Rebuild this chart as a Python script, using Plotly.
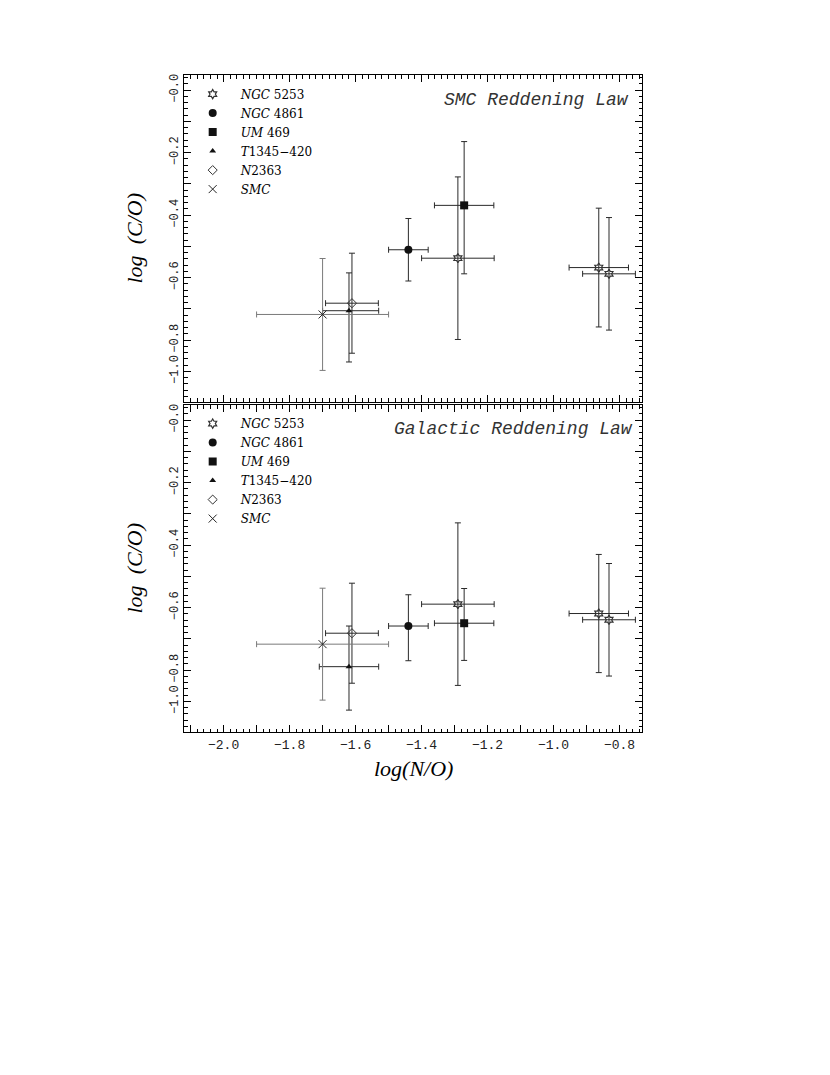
import plotly.graph_objects as go
from plotly.subplots import make_subplots

# ---------------- data ----------------
legend_names = ["<i>NGC</i> 5253", "<i>NGC</i> 4861", "<i>UM</i> 469",
                "<i>T</i>1345\u2212420", "<i>N</i>2363", "<i>SMC</i>"]

# log(N/O) values and errors (same in both panels)
ngc5253_x = [-1.29, -0.863, -0.832]
ngc5253_xerr = [0.11, 0.09, 0.08]
ngc4861_x = [-1.44]
ngc4861_xerr = [0.06]
um469_x = [-1.271]
um469_xerr = [0.09]
t1345_x = [-1.62]
t1345_xerr_minus_smc = [0.08]
t1345_xerr_plus_smc = [0.09]
t1345_xerr_minus_gal = [0.09]
t1345_xerr_plus_gal = [0.09]
n2363_x = [-1.611]
n2363_xerr = [0.08]
smc_x = [-1.70]
smc_xerr = [0.20]

# log(C/O), SMC reddening law
ngc5253_y_smc = [-0.538, -0.568, -0.588]
ngc5253_yerr_smc = [0.26, 0.19, 0.18]
ngc4861_y_smc = [-0.511]
ngc4861_yerr_smc = [0.10]
um469_y_smc = [-0.369]
um469_yplus_smc = [0.204]
um469_yminus_smc = [0.219]
t1345_y_smc = [-0.706]
t1345_yplus_smc = [0.121]
t1345_yminus_smc = [0.164]
n2363_y_smc = [-0.682]
n2363_yerr_smc = [0.16]
smc_y_smc = [-0.718]
smc_yerr_smc = [0.179]

# log(C/O), Galactic reddening law
ngc5253_y_gal = [-0.589, -0.619, -0.639]
ngc5253_yerr_gal = [0.26, 0.189, 0.18]
ngc4861_y_gal = [-0.659]
ngc4861_yplus_gal = [0.10]
ngc4861_yminus_gal = [0.111]
um469_y_gal = [-0.650]
um469_yplus_gal = [0.111]
um469_yminus_gal = [0.119]
t1345_y_gal = [-0.789]
t1345_yplus_gal = [0.130]
t1345_yminus_gal = [0.139]
n2363_y_gal = [-0.682]
n2363_yerr_gal = [0.16]
smc_y_gal = [-0.717]
smc_yerr_gal = [0.179]

# tick labels
x_tickvals = [-2.1, -2.0, -1.9, -1.8, -1.7, -1.6, -1.5, -1.4, -1.3, -1.2, -1.1, -1.0, -0.9, -0.8]
x_ticktext = ["", "\u22122.0", "", "\u22121.8", "", "\u22121.6", "", "\u22121.4", "",
              "\u22121.2", "", "\u22121.0", "", "\u22120.8"]
y_tickvals = [0.0, -0.1, -0.2, -0.3, -0.4, -0.5, -0.6, -0.7, -0.8, -0.9]
y_ticktext = ["\u22120.0", "", "\u22120.2", "", "\u22120.4", "", "\u22120.6", "",
              "\u22120.8", "\u22121.0"]

panel_titles = ["<i>SMC Reddening Law</i>", "<i>Galactic Reddening Law</i>"]

# ---------------- figure ----------------
fig = make_subplots(rows=2, cols=1, shared_xaxes=False, vertical_spacing=0.0046)

INK = "#111111"
ERR = "#2a2a2a"
ERR_GRAY = "#7a7a7a"


def err(arr, minus=None, color=ERR):
    d = dict(type="data", array=arr, visible=True, color=color, thickness=1, width=3)
    if minus is not None:
        d["symmetric"] = False
        d["arrayminus"] = minus
    return d


def add_panel(row, legend_id, ys):
    (y5253, e5253, y4861, e4861p, e4861m, yum, eump, eumm,
     yt, etp, etm, etxm, etxp, yn, en, ys_, es) = ys
    specs = [
        (legend_names[0], ngc5253_x, y5253, err(ngc5253_xerr), err(e5253),
         dict(symbol="hexagram-open", size=7, color="#333333", line=dict(width=1.2, color="#333333"))),
        (legend_names[1], ngc4861_x, y4861, err(ngc4861_xerr), err(e4861p, e4861m),
         dict(symbol="circle", size=8, color=INK, line=dict(width=0))),
        (legend_names[2], um469_x, yum, err(um469_xerr), err(eump, eumm),
         dict(symbol="square", size=8, color=INK, line=dict(width=0))),
        (legend_names[3], t1345_x, yt, err(etxp, etxm), err(etp, etm),
         dict(symbol="triangle-up", size=6, color=INK, line=dict(width=0))),
        (legend_names[4], n2363_x, yn, err(n2363_xerr), err(en),
         dict(symbol="diamond-open", size=7, color="#333333", line=dict(width=1))),
        (legend_names[5], smc_x, ys_, err(smc_xerr, color=ERR_GRAY), err(es, color=ERR_GRAY),
         dict(symbol="x-thin-open", size=8, color="#222222", line=dict(width=1, color="#222222"))),
    ]
    for name, x, y, ex, ey, mk in specs:
        fig.add_trace(go.Scatter(x=x, y=y, mode="markers", name=name, marker=mk,
                                 error_x=ex, error_y=ey, legend=legend_id,
                                 showlegend=True), row=row, col=1)


add_panel(1, "legend", (ngc5253_y_smc, ngc5253_yerr_smc, ngc4861_y_smc, ngc4861_yerr_smc,
                        ngc4861_yerr_smc, um469_y_smc, um469_yplus_smc, um469_yminus_smc,
                        t1345_y_smc, t1345_yplus_smc, t1345_yminus_smc,
                        t1345_xerr_minus_smc, t1345_xerr_plus_smc,
                        n2363_y_smc, n2363_yerr_smc, smc_y_smc, smc_yerr_smc))
add_panel(2, "legend2", (ngc5253_y_gal, ngc5253_yerr_gal, ngc4861_y_gal, ngc4861_yplus_gal,
                         ngc4861_yminus_gal, um469_y_gal, um469_yplus_gal, um469_yminus_gal,
                         t1345_y_gal, t1345_yplus_gal, t1345_yminus_gal,
                         t1345_xerr_minus_gal, t1345_xerr_plus_gal,
                         n2363_y_gal, n2363_yerr_gal, smc_y_gal, smc_yerr_gal))

minor_ticks = dict(ticks="inside", ticklen=3.5, tickwidth=1, tickcolor="black",
                   dtick=0.02, tick0=0, showgrid=False)
axis_common = dict(showline=True, linecolor="black", linewidth=1, mirror="allticks",
                   ticks="inside", ticklen=7, tickwidth=1, tickcolor="black",
                   showgrid=False, zeroline=False, minor=minor_ticks)

for r in (1, 2):
    fig.update_xaxes(range=[-2.12, -0.732], tickmode="array", tickvals=x_tickvals,
                     ticktext=x_ticktext, showticklabels=(r == 2),
                     tickfont=dict(family="Liberation Mono", size=13, color="#222222"),
                     **axis_common, row=r, col=1)
    fig.update_yaxes(range=[-0.998, 0.048], tickmode="array", tickvals=y_tickvals,
                     ticktext=y_ticktext, tickangle=-90,
                     tickfont=dict(family="Liberation Mono", size=12, color="#222222"),
                     **axis_common, row=r, col=1)

legend_common = dict(xref="paper", yref="paper", xanchor="left", yanchor="top",
                     bgcolor="rgba(0,0,0,0)", borderwidth=0, tracegroupgap=0,
                     itemwidth=46,
                     font=dict(family="DejaVu Serif", size=12, color="black"))

title_font = dict(family="Liberation Mono", size=18, color="#333333")
axis_title_font = dict(family="Liberation Serif", size=22, color="black")

annotations = [
    dict(text=panel_titles[0], xref="x domain", yref="y domain", x=0.975, y=0.924,
         xanchor="right", yanchor="middle", showarrow=False, font=title_font),
    dict(text=panel_titles[1], xref="x2 domain", yref="y2 domain", x=0.985, y=0.928,
         xanchor="right", yanchor="middle", showarrow=False, font=title_font),
    dict(text="<i>log</i>&nbsp;&nbsp;<i>(C/O)</i>", xref="paper", yref="y domain",
         x=-0.107, y=0.5, textangle=-90, xanchor="center", yanchor="middle",
         showarrow=False, font=axis_title_font),
    dict(text="<i>log</i>&nbsp;&nbsp;<i>(C/O)</i>", xref="paper", yref="y2 domain",
         x=-0.107, y=0.5, textangle=-90, xanchor="center", yanchor="middle",
         showarrow=False, font=axis_title_font),
    dict(text="<i>log(N/O)</i>", xref="x2 domain", yref="paper",
         x=0.5, y=(732 - 768) / 657, xanchor="center", yanchor="middle",
         showarrow=False, font=axis_title_font),
]

fig.update_layout(
    width=822, height=1067,
    margin=dict(l=176, r=188, t=67, b=343, pad=0),
    paper_bgcolor="white", plot_bgcolor="white",
    legend=dict(x=0.0015, y=0.993, **legend_common),
    legend2=dict(x=0.0015, y=0.4915, **legend_common),
    annotations=annotations,
    showlegend=True,
)

fig.write_html("out.html")
